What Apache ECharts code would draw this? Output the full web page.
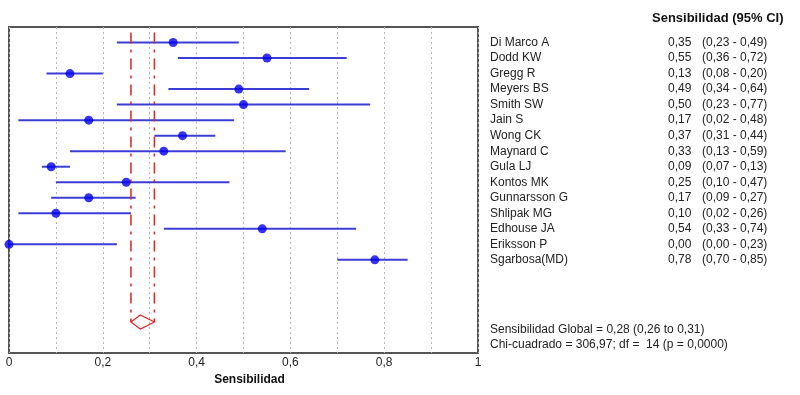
<!DOCTYPE html>
<html>
<head>
<meta charset="utf-8">
<script src="https://cdn.jsdelivr.net/npm/echarts@6/dist/echarts.min.js"></script>
<style>
  html, body { margin: 0; padding: 0; background: #fff; }
  #chart { width: 800px; height: 395px; }
</style>
</head>
<body>
<div id="chart"></div>
<script>
// estudios y sensibilidad (IC 95%)
const studies = ['Di Marco A', 'Dodd KW', 'Gregg R', 'Meyers BS', 'Smith SW', 'Jain S', 'Wong CK', 'Maynard C',
  'Gula LJ', 'Kontos MK', 'Gunnarsson G', 'Shlipak MG', 'Edhouse JA', 'Eriksson P', 'Sgarbosa(MD)']
const sens = [0.35, 0.55, 0.13, 0.49, 0.50, 0.17, 0.37, 0.33, 0.09, 0.25, 0.17, 0.10, 0.54, 0.00, 0.78]
const lower = [0.23, 0.36, 0.08, 0.34, 0.23, 0.02, 0.31, 0.13, 0.07, 0.10, 0.09, 0.02, 0.33, 0.00, 0.70]
const upper = [0.49, 0.72, 0.20, 0.64, 0.77, 0.48, 0.44, 0.59, 0.13, 0.47, 0.27, 0.26, 0.74, 0.23, 0.85]
// global: estimacion, inferior, superior
const pooled = [0.28, 0.26, 0.31]
const pooledRow = 18
const xTicks = [0, 0.2, 0.4, 0.6, 0.8, 1]

const fmt = (v) => v.toFixed(2).replace('.', ',')
const font = '"Liberation Sans", Arial, sans-serif'

const chart = echarts.init(document.getElementById('chart'))
const option = {
  animation: false,
  grid: {
    left: 9,
    right: 322,
    top: 27,
    bottom: 42,
    show: true,
    borderColor: '#555',
    borderWidth: 2
  },
  xAxis: {
    type: 'value',
    min: 0,
    max: 1,
    interval: 0.1,
    name: 'Sensibilidad',
    nameLocation: 'middle',
    nameGap: 18,
    nameTextStyle: { fontFamily: font, fontSize: 12, fontWeight: 'bold', color: '#111', padding: [0, 0, 0, 12] },
    axisLine: { show: false },
    axisTick: { show: false },
    axisLabel: {
      margin: 4,
      fontFamily: font,
      fontSize: 12,
      color: '#222',
      formatter: (v) => {
        const r = Math.round(v * 10) / 10
        if (!xTicks.includes(r)) return ''
        return r === 0 || r === 1 ? String(r) : r.toFixed(1).replace('.', ',')
      }
    },
    splitLine: { show: true, lineStyle: { color: '#b4b4b4', type: [2, 3], width: 1 } }
  },
  yAxis: {
    type: 'value',
    inverse: true,
    min: -1,
    max: 20,
    show: false
  },
  graphic: [
    {
      type: 'text', left: 652, top: 12,
      style: { text: 'Sensibilidad (95% CI)', font: 'bold 13px ' + font, fill: '#111' }
    },
    {
      type: 'text', left: 490, top: 324,
      style: { text: 'Sensibilidad Global = ' + fmt(pooled[0]) + ' (' + fmt(pooled[1]) + ' to ' + fmt(pooled[2]) + ')', font: '12px ' + font, fill: '#222' }
    },
    {
      type: 'text', left: 490, top: 339,
      style: { text: 'Chi-cuadrado = 306,97; df =  14 (p = 0,0000)', font: '12px ' + font, fill: '#222' }
    }
  ],
  series: [
    {
      // lineas del IC
      type: 'custom',
      clip: false,
      data: studies.map((s, i) => [lower[i], upper[i], i]),
      renderItem: (params, api) => {
        const p1 = api.coord([api.value(0), api.value(2)])
        const p2 = api.coord([api.value(1), api.value(2)])
        return {
          type: 'line',
          shape: { x1: p1[0], y1: p1[1], x2: p2[0], y2: p2[1] },
          style: { stroke: '#3c3cd6', lineWidth: 2 }
        }
      }
    },
    {
      // estimaciones puntuales
      type: 'scatter',
      clip: false,
      symbol: 'circle',
      symbolSize: 9,
      itemStyle: { color: '#0000ee' },
      data: sens.map((v, i) => [v, i])
    },
    {
      // IC global (lineas discontinuas) y rombo
      type: 'custom',
      clip: false,
      data: [[pooled[0], pooled[1], pooled[2], pooledRow]],
      renderItem: (params, api) => {
        const row = api.value(3)
        const top = api.coord([api.value(1), -0.65])
        const lo = api.coord([api.value(1), row])
        const hi = api.coord([api.value(2), row])
        const mid = api.coord([api.value(0), row])
        const half = api.size([0, 0.45])[1]
        const dash = { stroke: '#e3241c', lineWidth: 1.5, lineDash: [11, 6, 3, 6] }
        return {
          type: 'group',
          children: [
            { type: 'line', shape: { x1: top[0], y1: top[1], x2: lo[0], y2: lo[1] }, style: dash },
            { type: 'line', shape: { x1: hi[0], y1: top[1], x2: hi[0], y2: hi[1] }, style: dash },
            {
              type: 'polygon',
              shape: { points: [[lo[0], lo[1]], [mid[0], mid[1] - half], [hi[0], hi[1]], [mid[0], mid[1] + half]] },
              style: { fill: 'none', stroke: '#e3241c', lineWidth: 1.2 }
            }
          ]
        }
      }
    },
    {
      // tabla de la derecha
      type: 'custom',
      clip: false,
      data: studies.map((s, i) => [0, i]),
      renderItem: (params, api) => {
        const i = params.dataIndex
        const y = api.coord([0, api.value(1)])[1]
        const st = { font: '12px ' + font, fill: '#222', verticalAlign: 'middle' }
        return {
          type: 'group',
          children: [
            { type: 'text', x: 490, y: y, style: Object.assign({ text: studies[i] }, st) },
            { type: 'text', x: 668, y: y, style: Object.assign({ text: fmt(sens[i]) }, st) },
            { type: 'text', x: 702, y: y, style: Object.assign({ text: '(' + fmt(lower[i]) + ' - ' + fmt(upper[i]) + ')' }, st) }
          ]
        }
      }
    }
  ]
}
chart.setOption(option)
</script>
</body>
</html>
